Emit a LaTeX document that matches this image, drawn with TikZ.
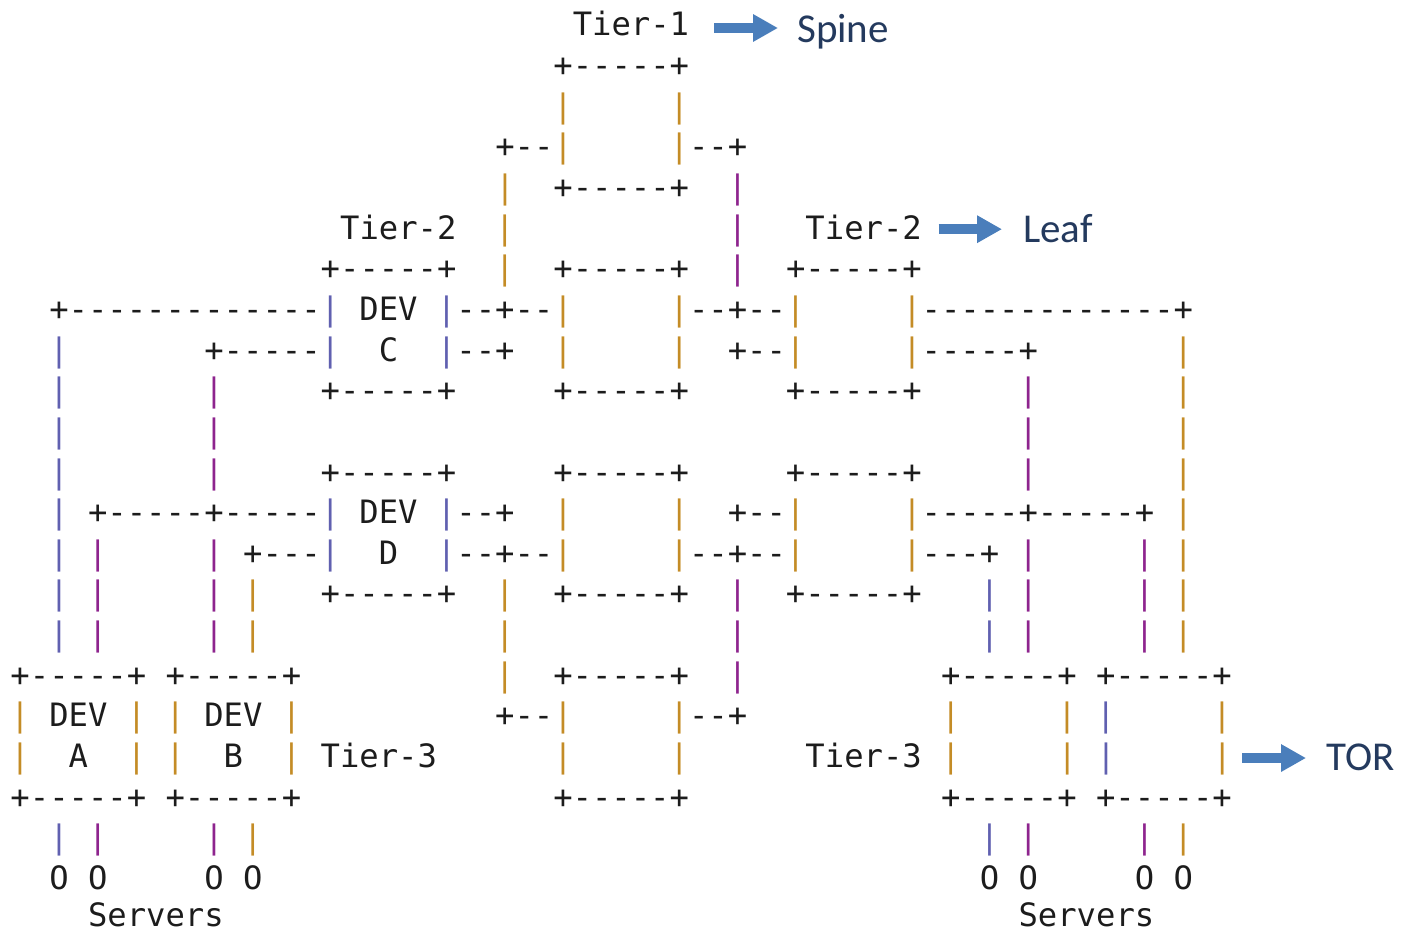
\documentclass[tikz,border=0pt]{standalone}
\usepackage{fontspec}
\setmonofont{DejaVu Sans Mono}
\newfontfamily\lblfont{Carlito}
\usetikzlibrary{arrows.meta}
\definecolor{ink}{RGB}{28,28,28}
\definecolor{barG}{RGB}{196,140,38}
\definecolor{barP}{RGB}{142,36,142}
\definecolor{barS}{RGB}{96,96,176}
\definecolor{arrowblue}{RGB}{74,126,187}
\definecolor{labelnavy}{RGB}{36,58,94}
\newcommand\bG{\textcolor{barG}{|}}
\newcommand\bP{\textcolor{barP}{|}}
\newcommand\bS{\textcolor{barS}{|}}
\newcommand\sk[1]{\hspace*{#1\fontcharwd\font`x}}
\newcommand\asciifont{\ttfamily\fontsize{32.2pt}{40pt}\selectfont}
\newcommand\R[4]{\node[asc] (#1) at ({19.39*#2-9.095},{36+40.64*#3}) {#4};}
\begin{document}
\begin{tikzpicture}[x=1pt,y=-1pt,
  asc/.style={inner sep=0pt, anchor=base west, font=\asciifont, text=ink},
  lbl/.style={inner sep=0pt, anchor=base west, font=\lblfont\fontsize{41pt}{48pt}\selectfont, text=labelnavy},
  blarrow/.style={draw=arrowblue, line width=10pt, -{Triangle[length=25pt,width=26pt]}}]
\useasboundingbox (0,0) rectangle (1407,934);
\R{tier1}{30}{0}{Tier-1}
\R{r1}{29}{1}{+-----+}
\R{r2}{29}{2}{\bG\sk{5}\bG}
\R{r3}{26}{3}{+--\bG\sk{5}\bG--+}
\R{r4}{26}{4}{\bG\sk{2}+-----+\sk{2}\bP}
\R{r5}{18}{5}{Tier-2\sk{2}\bG\sk{11}\bP}
\R{tier2R}{42}{5}{Tier-2}
\R{r6}{17}{6}{+-----+\sk{2}\bG\sk{2}+-----+\sk{2}\bP\sk{2}+-----+}
\R{r7}{3}{7}{+-------------\bS~DEV~\bS--+--\bG\sk{5}\bG--+--\bG\sk{5}\bG-------------+}
\R{r8}{3}{8}{\bS\sk{7}+-----\bS\sk{2}C\sk{2}\bS--+\sk{2}\bG\sk{5}\bG\sk{2}+--\bG\sk{5}\bG-----+\sk{7}\bG}
\R{r9}{3}{9}{\bS\sk{7}\bP\sk{5}+-----+\sk{5}+-----+\sk{5}+-----+\sk{5}\bP\sk{7}\bG}
\R{r10}{3}{10}{\bS\sk{7}\bP\sk{41}\bP\sk{7}\bG}
\R{r11}{3}{11}{\bS\sk{7}\bP\sk{5}+-----+\sk{5}+-----+\sk{5}+-----+\sk{5}\bP\sk{7}\bG}
\R{r12}{3}{12}{\bS~+-----+-----\bS~DEV~\bS--+\sk{2}\bG\sk{5}\bG\sk{2}+--\bG\sk{5}\bG-----+-----+~\bG}
\R{r13}{3}{13}{\bS~\bP\sk{5}\bP~+---\bS\sk{2}D\sk{2}\bS--+--\bG\sk{5}\bG--+--\bG\sk{5}\bG---+~\bP\sk{5}\bP~\bG}
\R{r14}{3}{14}{\bS~\bP\sk{5}\bP~\bG\sk{3}+-----+\sk{2}\bG\sk{2}+-----+\sk{2}\bP\sk{2}+-----+\sk{3}\bS~\bP\sk{5}\bP~\bG}
\R{r15}{3}{15}{\bS~\bP\sk{5}\bP~\bG\sk{12}\bG\sk{11}\bP\sk{12}\bS~\bP\sk{5}\bP~\bG}
\R{r16}{1}{16}{+-----+~+-----+\sk{10}\bG\sk{2}+-----+\sk{2}\bP\sk{10}+-----+~+-----+}
\R{r17}{1}{17}{\bG~DEV~\bG~\bG~DEV~\bG\sk{10}+--\bG\sk{5}\bG--+\sk{10}\bG\sk{5}\bG~\bS\sk{5}\bG}
\R{r18}{1}{18}{\bG\sk{2}A\sk{2}\bG~\bG\sk{2}B\sk{2}\bG~Tier-3\sk{6}\bG\sk{5}\bG}
\R{tier3R}{42}{18}{Tier-3}
\R{r18b}{49}{18}{\bG\sk{5}\bG~\bS\sk{5}\bG}
\R{r19}{1}{19}{+-----+~+-----+\sk{13}+-----+\sk{13}+-----+~+-----+}
\R{r20}{3}{20}{\bS~\bP\sk{5}\bP~\bG\sk{37}\bS~\bP\sk{5}\bP~\bG}
\R{r21}{3}{21}{O~O\sk{5}O~O\sk{37}O~O\sk{5}O~O}
\R{r22}{5}{21.9}{Servers\sk{41}Servers}
\node[lbl] (spine) at (797,42) {Spine};
\node[lbl] (leaf) at (1023,242) {Leaf};
\node[lbl] (tor) at (1326,770) {TOR};
\coordinate (a1) at ([yshift=8pt]tier1.base east);
\coordinate (a2) at ([yshift=10pt]tier2R.base east);
\coordinate (a3) at ([yshift=9.5pt]r18b.base east);
\draw[blarrow, shorten <=25pt, shorten >=19pt] (a1) -- (a1 -| spine.west);
\draw[blarrow, shorten <=16.5pt, shorten >=21pt] (a2) -- (a2 -| leaf.west);
\draw[blarrow, shorten <=10pt, shorten >=20pt] (a3) -- (a3 -| tor.west);
\end{tikzpicture}
\end{document}
